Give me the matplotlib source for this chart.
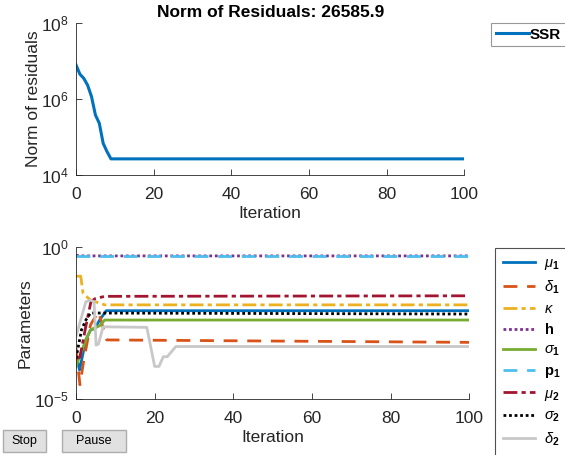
import matplotlib
matplotlib.use("Agg")
import matplotlib.pyplot as plt
from matplotlib.patches import Rectangle
from matplotlib.ticker import LogFormatterMathtext, NullLocator, FixedLocator

plt.rcParams['font.family'] = ['Liberation Sans', 'DejaVu Sans']
plt.rcParams['mathtext.fontset'] = 'custom'
plt.rcParams['mathtext.rm'] = 'Liberation Sans'
plt.rcParams['mathtext.it'] = 'Liberation Sans:italic'
plt.rcParams['mathtext.bf'] = 'Liberation Sans:bold'
plt.rcParams['mathtext.default'] = 'regular'

# ---------------- data ----------------
title_value = "26585.9"
ssr_iter = [0, 1, 2, 3, 4, 5, 6, 7, 8, 9, 100]
ssr_vals = [7.9e6, 4.5e6, 3.5e6, 2.3e6, 1.15e6, 3.8e5, 2.3e5, 6.8e4, 4.1e4, 26585.9, 26585.9]

param_names = ['mu1', 'delta1', 'kappa', 'h', 'sigma1', 'p1', 'mu2', 'sigma2', 'delta2']
param_labels = [r'$\mathit{\mu}_{\mathbf{1}}$', r'$\mathit{\delta}_{\mathbf{1}}$', r'$\mathit{\kappa}$',
                r'$\mathbf{h}$', r'$\mathit{\sigma}_{\mathbf{1}}$', r'$\mathbf{p}_{\mathbf{1}}$',
                r'$\mathit{\mu}_{\mathbf{2}}$', r'$\mathit{\sigma}_{\mathbf{2}}$', r'$\mathit{\delta}_{\mathbf{2}}$']

mu1_iter = [0, 0.9, 2.5, 3.7, 4.8, 6.0, 7.7, 100]
mu1_vals = [3.0e-4, 9.1e-5, 8.9e-4, 1.9e-3, 2.1e-3, 4.0e-3, 8.1e-3, 8.1e-3]

delta1_iter = [0, 1.0, 2.0, 3.7, 5.7, 7.8, 100]
delta1_vals = [4.8e-4, 3.0e-5, 2.0e-4, 2.8e-3, 7.6e-3, 8.9e-4, 7.4e-4]

kappa_iter = [0, 1.2, 1.8, 3.7, 7.3, 100]
kappa_vals = [0.11, 0.11, 0.030, 0.018, 0.0126, 0.0126]

h_iter = [0, 2, 100]
h_vals = [0.53, 0.51, 0.51]

sigma1_iter = [0, 2.5, 3.7, 6.0, 7.3, 100]
sigma1_vals = [1.2e-4, 8.9e-4, 1.9e-3, 2.6e-3, 4.0e-3, 4.0e-3]

p1_iter = [0, 100]
p1_vals = [0.52, 0.52]

mu2_iter = [0, 1.0, 2.5, 3.8, 4.8, 7.3, 100]
mu2_vals = [2.2e-4, 2.4e-4, 2.5e-3, 0.016, 0.020, 0.024, 0.025]

sigma2_iter = [0, 1.4, 2.5, 3.7, 100]
sigma2_vals = [2.2e-4, 1.9e-3, 4.0e-3, 6.8e-3, 6.3e-3]

delta2_iter = [0, 2.5, 3.7, 4.6, 5.1, 5.7, 6.9, 18, 20, 21.1, 22.2, 23.2, 25.4, 100]
delta2_vals = [1.15e-3, 0.016, 0.018, 0.016, 6.0e-4, 6.5e-4, 2.4e-3, 2.3e-3, 1.2e-4, 1.2e-4,
               2.5e-4, 2.5e-4, 5.4e-4, 5.4e-4]

x_ticks = [0, 20, 40, 60, 80, 100]

# ---------------- style ----------------
colors = ['#0072BD', '#D95319', '#EDB120', '#7E2F8E', '#77AC30', '#4DBEEE', '#A2142F', '#000000', '#C8C8C8']
styles = ['-', (0, (5, 3.5)), (0, (5, 1.5, 1.5, 1.5)), (0, (1, 1)), '-', (0, (5, 3.5)),
          (0, (5, 1.5, 1.5, 1.5)), (0, (1, 1)), '-']
series = [(mu1_iter, mu1_vals), (delta1_iter, delta1_vals), (kappa_iter, kappa_vals), (h_iter, h_vals),
          (sigma1_iter, sigma1_vals), (p1_iter, p1_vals), (mu2_iter, mu2_vals), (sigma2_iter, sigma2_vals),
          (delta2_iter, delta2_vals)]

W, H = 565, 455
fig = plt.figure(figsize=(W / 100, H / 100), dpi=100)
axcol = '#262626'


def style_ax(ax):
    for s in ['top', 'right']:
        ax.spines[s].set_visible(False)
    for s in ['left', 'bottom']:
        ax.spines[s].set_color(axcol)
        ax.spines[s].set_linewidth(0.6)
    ax.tick_params(direction='in', length=4, width=0.6, color=axcol, labelcolor=axcol,
                   labelsize=12.5, pad=5)
    ax.tick_params(axis='x', pad=8.5)
    ax.yaxis.set_minor_locator(NullLocator())
    ax.set_xlim(0, 100)
    ax.set_xticks(x_ticks)
    ax.set_xlabel('Iteration', fontsize=12.5, color=axcol, labelpad=3)


# top axes
ax1 = fig.add_axes([76 / W, 1 - 175 / H, (464.3 - 76) / W, (175 - 23) / H])
ax1.semilogy(ssr_iter, ssr_vals, color='#0072BD', lw=2.2, label='SSR')
ax1.set_ylim(1e4, 1e8)
ax1.yaxis.set_major_locator(FixedLocator([1e4, 1e6, 1e8]))
ax1.yaxis.set_major_formatter(LogFormatterMathtext())
style_ax(ax1)
ax1.set_ylabel('Norm of residuals', fontsize=12.5, color=axcol, labelpad=0)
ax1.set_title('Norm of Residuals: ' + title_value, fontsize=12.5, fontweight='bold', color='black', pad=4)

leg1 = fig.legend(handles=ax1.get_lines(), labels=['SSR'], loc='upper left',
                  bbox_to_anchor=(491 / W, 1 - 23 / H), prop={'weight': 'bold', 'size': 11},
                  frameon=True, fancybox=False, handlelength=2.2, handletextpad=0.05,
                  borderpad=0.3, borderaxespad=0)
leg1.get_frame().set_edgecolor('#7f7f7f')
leg1.get_frame().set_linewidth(0.8)

# bottom axes
ax2 = fig.add_axes([76 / W, 1 - 399.3 / H, (469.3 - 76) / W, (399.3 - 247) / H])
handles = []
for (xi, yv), c, ls in zip(series, colors, styles):
    ln, = ax2.semilogy(xi, yv, color=c, ls=ls, lw=2.0)
    handles.append(ln)
ax2.set_ylim(1e-5, 1e0)
ax2.yaxis.set_major_locator(FixedLocator([1e-5, 1e0]))
ax2.yaxis.set_major_formatter(LogFormatterMathtext())
style_ax(ax2)
ax2.set_ylabel('Parameters', fontsize=12.5, color=axcol, labelpad=1)

leg2 = fig.legend(handles=handles, labels=param_labels, loc='upper left',
                  bbox_to_anchor=(495 / W, 1 - 248 / H), prop={'size': 10.5},
                  frameon=True, fancybox=False, handlelength=2.2, handletextpad=0.6,
                  labelspacing=0.42, borderpad=0.55, borderaxespad=0)
leg2.get_frame().set_edgecolor('#262626')
leg2.get_frame().set_linewidth(0.8)

# buttons
for (x0, x1, txt) in [(3, 46, 'Stop'), (62, 126, 'Pause')]:
    r = Rectangle((x0 / W, 1 - 452 / H), (x1 - x0) / W, 22 / H, transform=fig.transFigure,
                  facecolor='#E1E1E1', edgecolor='#ADADAD', lw=1.0)
    fig.add_artist(r)
    fig.text((x0 + x1) / 2 / W, 1 - 441 / H, txt, ha='center', va='center', fontsize=9, color='black')

fig.savefig('out.png', dpi=100)
